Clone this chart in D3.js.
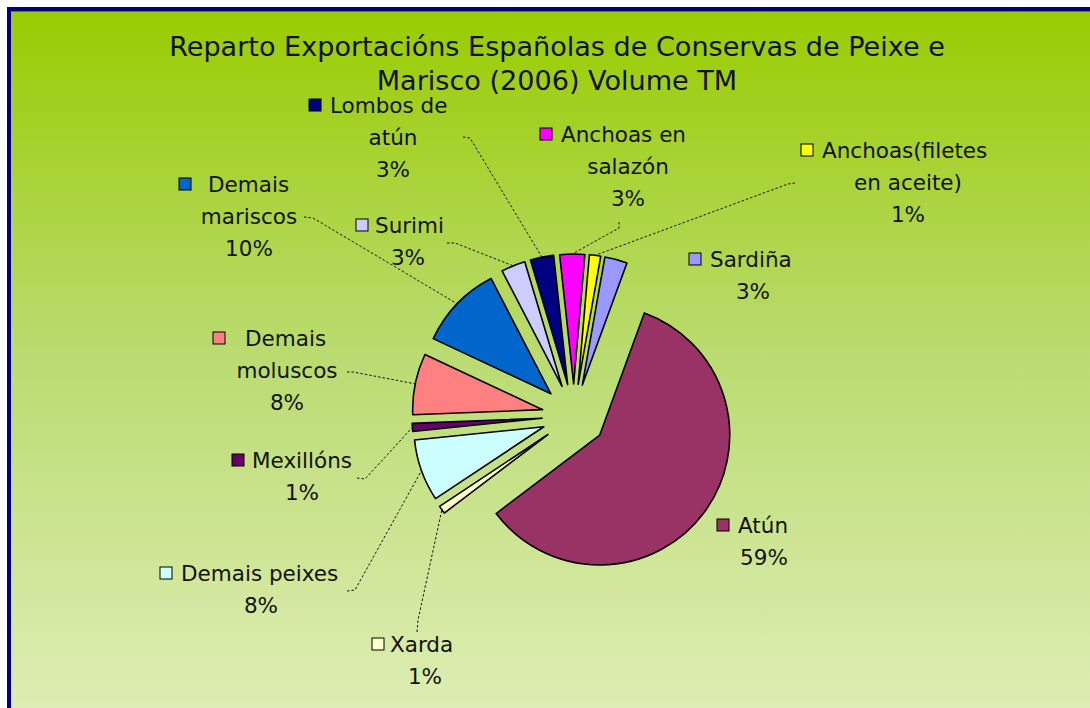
<!DOCTYPE html>
<html>
<head>
<meta charset="utf-8">
<script src="https://cdn.jsdelivr.net/npm/d3@7"></script>
<style>
  body { margin: 0; background: #fff; }
  svg { display: block; }
  text { font-family: "DejaVu Sans", sans-serif; fill: #111; }
</style>
</head>
<body>
<script>
// data (Excel order, clockwise from the first slice)
var categories = ["Sardiña", "Atún", "Xarda", "Demais peixes", "Mexillóns", "Demais moluscos",
                  "Demais mariscos", "Surimi", "Lombos de atún", "Anchoas en salazón", "Anchoas(filetes en aceite)"];
var values = [2.8, 59.1, 1.0, 7.7, 1.0, 7.6, 10.4, 3.0, 2.9, 3.1, 1.4];
var colors = ["#9999FF", "#993366", "#FFFFCC", "#CCFFFF", "#660066", "#FF8080",
              "#0066CC", "#CCCCFF", "#000080", "#FF00FF", "#FFFF00"];
var titleLines = ["Reparto Exportacións Españolas de Conservas de Peixe e", "Marisco (2006) Volume TM"];
// how many words stay on the first line of each label (0 = no wrap)
var wrapAt = [0, 0, 0, 0, 0, 1, 1, 0, 2, 2, 1];

// label layout: key box x, text x, centre x of the other lines, first baseline
var labelPos = [
    {kx: 689, tx: 710, cx: 753, y: 267},
    {kx: 717, tx: 738, cx: 764, y: 533},
    {kx: 372, tx: 390, cx: 425, y: 652},
    {kx: 160, tx: 181, cx: 261, y: 581},
    {kx: 232, tx: 252, cx: 302, y: 468},
    {kx: 213, tx: 245, cx: 287, y: 346},
    {kx: 179, tx: 208, cx: 249, y: 192},
    {kx: 356, tx: 375, cx: 408, y: 233},
    {kx: 309, tx: 330, cx: 393, y: 113},
    {kx: 540, tx: 561, cx: 628, y: 142},
    {kx: 801, tx: 822, cx: 908, y: 158}
];
// leader line start + elbow (end point comes from the slice)
var leaders = [null, null,
    [[417, 632], [418, 620]],
    [[347, 591], [355, 590]],
    [[357, 478], [365, 479]],
    [[347, 372], [353, 372]],
    [[304, 217], [313, 218]],
    [[447, 243], [455, 243]],
    [[463, 137], [470, 138]],
    [[619, 222], [619, 228]],
    [[795, 183], [788, 184]]
];

var width = 1090, height = 708;
var cx = 574, cy = 416, radius = 130, explode = 32;
var firstAngle = 10 * Math.PI / 180;
var lineH = 32;

var svg = d3.select("body").append("svg")
    .attr("width", width)
    .attr("height", height);

// background gradient
var grad = svg.append("defs").append("linearGradient")
    .attr("id", "bg").attr("x1", 0).attr("y1", 0).attr("x2", 0).attr("y2", 1);
grad.append("stop").attr("offset", 0).attr("stop-color", "#99CC00");
grad.append("stop").attr("offset", 0.45).attr("stop-color", "#B9DB6E");
grad.append("stop").attr("offset", 1).attr("stop-color", "#E3F0BD");

svg.append("rect")
    .attr("x", 9).attr("y", 9)
    .attr("width", width + 40).attr("height", height + 40)
    .attr("fill", "url(#bg)")
    .attr("stroke", "#000080")
    .attr("stroke-width", 4);
svg.append("line")
    .attr("x1", 11).attr("x2", width).attr("y1", 11.5).attr("y2", 11.5)
    .attr("stroke", "#5f7f22").attr("stroke-width", 1);

// title
var title = svg.append("text")
    .attr("text-anchor", "middle")
    .attr("font-size", 26);
title.selectAll("tspan")
    .data(titleLines)
    .enter().append("tspan")
    .attr("x", 557)
    .attr("y", function(d, i) { return 56 + i * 34; })
    .text(function(d) { return d; });
// fit first title line to the reference width
var tw = title.select("tspan").node().getComputedTextLength();
title.attr("font-size", 26 * 776 / tw);

// pie
var total = d3.sum(values);
var pie = d3.pie()
    .sort(null)
    .value(function(d) { return d; })
    .startAngle(firstAngle)
    .endAngle(firstAngle + 2 * Math.PI);
var arcs = pie(values);

var arc = d3.arc().innerRadius(0).outerRadius(radius);

function offset(d, r) {
    var a = (d.startAngle + d.endAngle) / 2;
    return [Math.sin(a) * r, -Math.cos(a) * r];
}

var g = svg.append("g").attr("transform", "translate(" + cx + "," + cy + ")");

// leader lines
svg.append("g").selectAll("polyline")
    .data(arcs.filter(function(d, i) { return leaders[i]; }))
    .enter().append("polyline")
    .attr("points", function(d) {
        var p = offset(d, radius + explode);
        var pts = leaders[d.index].concat([[cx + p[0], cy + p[1]]]);
        return pts.map(function(q) { return q.join(","); }).join(" ");
    })
    .attr("fill", "none")
    .attr("stroke", "#111")
    .attr("stroke-width", 1)
    .attr("stroke-dasharray", "2.5,2");

g.selectAll("path")
    .data(arcs)
    .enter().append("path")
    .attr("d", arc)
    .attr("transform", function(d) {
        var o = offset(d, explode);
        return "translate(" + o[0] + "," + o[1] + ")";
    })
    .attr("fill", function(d, i) { return colors[i]; })
    .attr("stroke", "#000")
    .attr("stroke-width", 1.6)
    .attr("stroke-linejoin", "round");

// data labels
var labels = svg.append("g").selectAll("g")
    .data(arcs)
    .enter().append("g");

labels.append("rect")
    .attr("x", function(d) { return labelPos[d.index].kx; })
    .attr("y", function(d) { return labelPos[d.index].y - 14; })
    .attr("width", 12).attr("height", 12)
    .attr("fill", function(d) { return colors[d.index]; })
    .attr("stroke", "#000")
    .attr("stroke-width", 1);

labels.each(function(d) {
    var i = d.index, pos = labelPos[i];
    var words = categories[i].split(" ");
    var lines = wrapAt[i] ? [words.slice(0, wrapAt[i]).join(" "), words.slice(wrapAt[i]).join(" ")] : [categories[i]];
    lines.push(Math.round(d.value / total * 100) + "%");
    var sel = d3.select(this);
    lines.forEach(function(t, k) {
        sel.append("text")
            .attr("x", k == 0 ? pos.tx : pos.cx)
            .attr("y", pos.y + k * lineH)
            .attr("text-anchor", k == 0 ? "start" : "middle")
            .attr("font-size", 21.5)
            .text(t);
    });
});
</script>
</body>
</html>
